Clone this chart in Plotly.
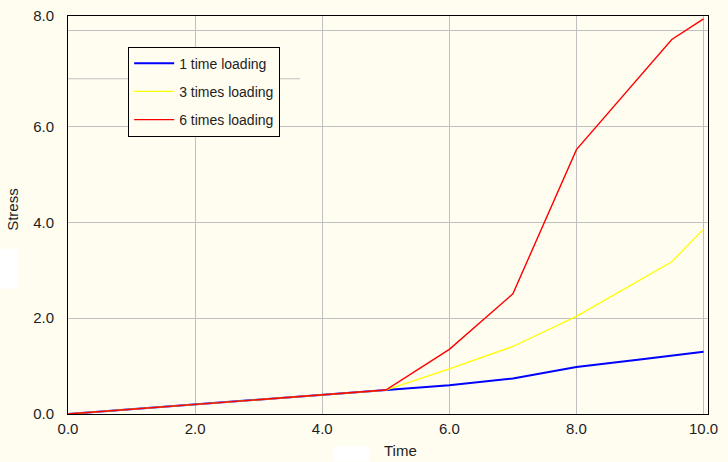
import plotly.graph_objects as go

# Data
time = [0, 1, 2, 3, 4, 5, 6, 7, 8, 9, 9.5, 10]
one_time = [0, 0.1, 0.2, 0.3, 0.4, 0.5, 0.60, 0.74, 0.98, 1.14, 1.22, 1.30]
three_times = [0, 0.1, 0.2, 0.3, 0.4, 0.5, 0.94, 1.41, 2.04, 2.80, 3.18, 3.86]
six_times = [0, 0.1, 0.2, 0.3, 0.4, 0.5, 1.35, 2.51, 5.52, 7.05, 7.82, 8.25]

series_names = ["1 time loading", "3 times loading", "6 times loading"]
x_ticks = [0, 2, 4, 6, 8, 10]
x_tick_text = ["0.0", "2.0", "4.0", "6.0", "8.0", "10.0"]
y_ticks = [0, 2, 4, 6, 8.31]
y_tick_text = ["0.0", "2.0", "4.0", "6.0", "8.0"]

BG = "#FFFCF0"
GRID = "#C0C0C0"
TXT = "#1e1e1e"
FONT = "Liberation Sans, Arial, sans-serif"

fig = go.Figure()
styles = [("#0000FF", 2), ("#FFFF00", 1.3), ("#FF0000", 1.4)]
for name, vals, (col, w) in zip(series_names, [one_time, three_times, six_times], styles):
    fig.add_trace(go.Scatter(x=time, y=vals, mode="lines", name=name,
                             legendgroup=name,
                             line=dict(color=col, width=w)))

fig.update_layout(
    width=728, height=462,
    margin=dict(l=68, r=20, t=16, b=48, autoexpand=False),
    paper_bgcolor=BG, plot_bgcolor=BG,
    font=dict(family=FONT, size=15, color=TXT),
    showlegend=True,
    legend=dict(x=0.094, y=0.923, xanchor="left", yanchor="top",
                bgcolor=BG, bordercolor="black", borderwidth=1,
                font=dict(size=14, color=TXT), itemwidth=40,
                tracegroupgap=7),
    xaxis=dict(range=[0, 10.07], tickmode="array", tickvals=x_ticks,
               ticktext=x_tick_text, showgrid=True, gridcolor=GRID, gridwidth=1,
               showline=True, linecolor="black", linewidth=1, mirror=True,
               zeroline=False, ticks="outside", ticklen=1, tickcolor=BG,
               automargin=False),
    yaxis=dict(range=[0, 8.31], tickmode="array", tickvals=y_ticks,
               ticktext=y_tick_text, showgrid=True, gridcolor=GRID, gridwidth=1,
               showline=True, linecolor="black", linewidth=1, mirror=True,
               zeroline=False, ticks="outside", ticklen=10, tickcolor=BG,
               automargin=False,
               minor=dict(tickmode="array", tickvals=[8], showgrid=True,
                          gridcolor=GRID, gridwidth=1, ticks="")),
    annotations=[
        dict(text="Time", xref="paper", yref="paper", x=0.52, y=-0.092,
             xanchor="center", yanchor="middle",
             showarrow=False, font=dict(size=15, color=TXT)),
        dict(text="Stress", xref="paper", yref="paper", x=-0.0859, y=0.513,
             xanchor="center", yanchor="middle",
             textangle=-90, showarrow=False, font=dict(size=15, color=TXT)),
    ],
    shapes=[
        dict(type="line", xref="x", yref="y", x0=0, x1=3.65, y0=7, y1=7,
             line=dict(color=GRID, width=1), layer="below"),
        dict(type="rect", xref="paper", yref="paper", x0=-0.10625, x1=-0.078,
             y0=0.3148, y1=0.4153, fillcolor="white", line=dict(width=0)),
        dict(type="rect", xref="paper", yref="paper", x0=0.4136, x1=0.4708,
             y0=-0.1198, y1=-0.0814, fillcolor="white", line=dict(width=0)),
    ],
)

fig.write_html("out.html",
               config={"displayModeBar": False},
               post_script="document.body.style.margin='0';"
                           "document.body.style.background='" + BG + "';")
